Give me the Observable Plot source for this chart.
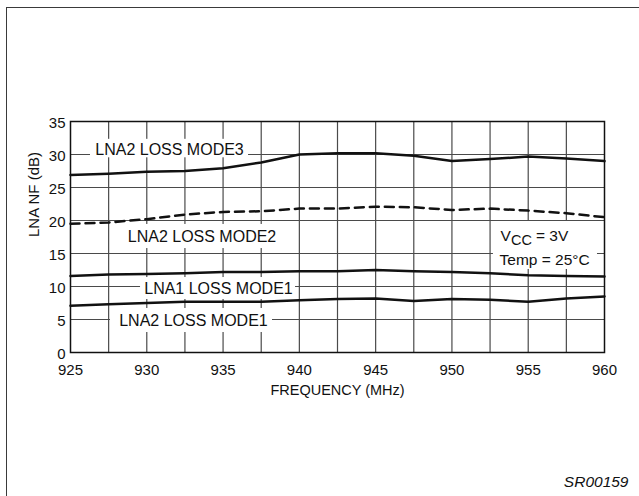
<!DOCTYPE html>
<html>
<head>
<meta charset="utf-8">
<script src="https://cdn.jsdelivr.net/npm/d3@7"></script>
<script src="https://cdn.jsdelivr.net/npm/@observablehq/plot@0.6"></script>
<style>
  html, body { margin: 0; padding: 0; background: #fff; }
  #sheet { position: relative; width: 639px; height: 496px; overflow: hidden; }
  #edge { position: absolute; left: 6px; top: 7px; width: 700px; height: 600px;
          border-left: 1.5px solid #3a3a3a; border-top: 1.5px solid #3a3a3a; pointer-events: none; }
</style>
</head>
<body>
<div id="sheet"><div id="edge"></div></div>
<script>
// Frequency sweep (MHz)
const frequency = [925, 927.5, 930, 932.5, 935, 937.5, 940, 942.5, 945, 947.5, 950, 952.5, 955, 957.5, 960];

// LNA noise figure (dB) per gain mode
const lna2LossMode3 = [26.9, 27.1, 27.4, 27.5, 27.9, 28.8, 30.0, 30.2, 30.2, 29.8, 29.0, 29.3, 29.7, 29.4, 29.0];
const lna2LossMode2 = [19.5, 19.7, 20.2, 20.9, 21.3, 21.4, 21.8, 21.8, 22.1, 22.0, 21.6, 21.8, 21.5, 21.1, 20.5];
const lna1LossMode1 = [11.6, 11.8, 11.9, 12.0, 12.2, 12.2, 12.3, 12.3, 12.5, 12.3, 12.2, 12.0, 11.7, 11.6, 11.5];
const lna2LossMode1 = [7.1, 7.3, 7.5, 7.7, 7.7, 7.7, 7.9, 8.1, 8.2, 7.8, 8.1, 8.0, 7.7, 8.2, 8.5];

// Axis ticks and grid positions
const xTicks = [925, 930, 935, 940, 945, 950, 955, 960];
const yTicks = [0, 5, 10, 15, 20, 25, 30, 35];
const xGrid = [927.5, 930, 932.5, 935, 937.5, 940, 942.5, 945, 947.5, 950, 952.5, 955, 957.5];
const yGrid = [5, 10, 15, 20, 25, 30];

const toRows = (values) => frequency.map((f, i) => ({f, nf: values[i]}));

// Curve captions with the white panels that cut the grid behind them
const captions = [
  {text: "LNA2 LOSS MODE3", x: 931.49, y: 30.76, x1: 926.31, x2: 936.67, y1: 29.5, y2: 32.3},
  {text: "LNA2 LOSS MODE2", x: 933.62, y: 17.47, x1: 928.41, x2: 938.83, y1: 15.75, y2: 19.4},
  {text: "LNA1 LOSS MODE1", x: 934.70, y: 9.65, x1: 929.59, x2: 939.75, y1: 8.03, y2: 11.36},
  {text: "LNA2 LOSS MODE1", x: 933.06, y: 4.85, x1: 927.62, x2: 938.24, y1: 3.03, y2: 6.67}
];
const conditionsPanel = [{x1: 952.72, x2: 959.54, y1: 12.58, y2: 19.85}];

const font = "'Liberation Sans', Arial, Helvetica, sans-serif";
const ink = "#111";
const gridInk = "#4a4a4a";

const chart = Plot.plot({
  width: 639,
  height: 496,
  marginLeft: 70,
  marginRight: 35,
  marginTop: 121,
  marginBottom: 144,
  style: {fontFamily: font, fontSize: "15px", color: ink, background: "transparent"},
  x: {domain: [925, 960]},
  y: {domain: [0, 35]},
  marks: [
    Plot.ruleX(xGrid, {stroke: gridInk, strokeWidth: 1.2}),
    Plot.ruleY(yGrid, {stroke: gridInk, strokeWidth: 1.2}),
    Plot.rect(captions, {x1: "x1", x2: "x2", y1: "y1", y2: "y2", fill: "#fff"}),
    Plot.rect(conditionsPanel, {x1: "x1", x2: "x2", y1: "y1", y2: "y2", fill: "#fff"}),
    Plot.frame({stroke: ink, strokeWidth: 1.5}),
    Plot.axisX(xTicks, {tickSize: 0, tickPadding: 12, fontSize: 15, label: null}),
    Plot.axisY(yTicks, {tickSize: 0, tickPadding: 5, fontSize: 15, dy: 2, label: null}),
    Plot.line(toRows(lna2LossMode3), {x: "f", y: "nf", stroke: ink, strokeWidth: 2.5}),
    Plot.line(toRows(lna2LossMode2), {x: "f", y: "nf", stroke: ink, strokeWidth: 2.5, strokeDasharray: "9,6"}),
    Plot.line(toRows(lna1LossMode1), {x: "f", y: "nf", stroke: ink, strokeWidth: 2.5}),
    Plot.line(toRows(lna2LossMode1), {x: "f", y: "nf", stroke: ink, strokeWidth: 2.5}),
    Plot.text(captions, {x: "x", y: "y", text: "text", fontSize: 16, fill: ink}),
    // Test conditions: V with CC subscript, then the temperature
    Plot.text(["V"], {x: 953.18, y: 17.58, text: d => d, textAnchor: "start", fontSize: 15.5, fill: ink}),
    Plot.text(["CC"], {x: 953.18, y: 17.58, text: d => d, textAnchor: "start", dx: 10.5, dy: 4, fontSize: 14.5, fill: ink}),
    Plot.text(["= 3V"], {x: 953.18, y: 17.58, text: d => d, textAnchor: "start", dx: 35.5, fontSize: 15.5, fill: ink}),
    Plot.text(["Temp = 25°C"], {x: 953.12, y: 14.05, text: d => d, textAnchor: "start", fontSize: 15.5, fill: ink}),
    // Axis titles and drawing reference
    Plot.text(["FREQUENCY (MHz)"], {frameAnchor: "bottom", dy: 42, text: d => d, fontSize: 14.5, fill: ink}),
    Plot.text(["LNA NF (dB)"], {frameAnchor: "left", dx: -36, rotate: -90, text: d => d, fontSize: 15, fill: ink}),
    Plot.text(["SR00159"], {frameAnchor: "bottom-right", dx: 24, dy: 134, textAnchor: "end", fontStyle: "italic", text: d => d, fontSize: 15.5, fill: ink})
  ]
});

document.getElementById("sheet").prepend(chart);
</script>
</body>
</html>
